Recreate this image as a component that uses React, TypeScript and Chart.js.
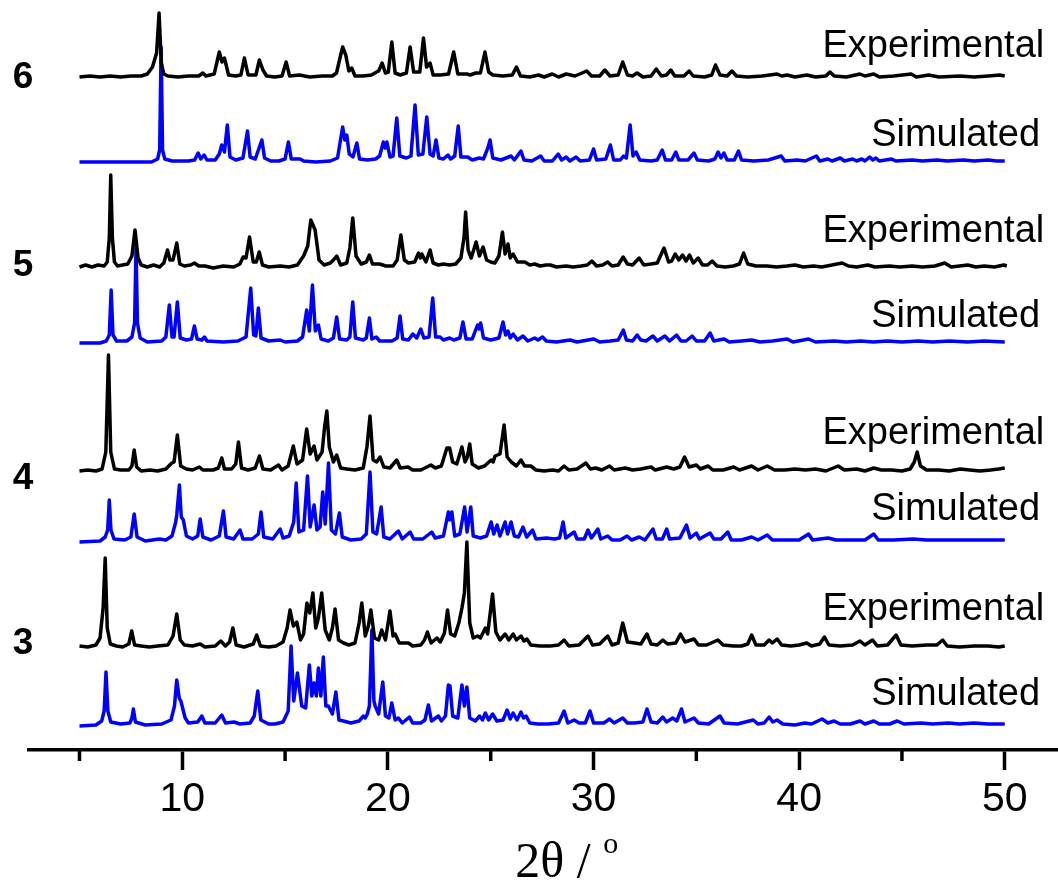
import React, { useEffect, useRef } from 'react';
import { Chart, registerables } from 'chart.js';

Chart.register(...registerables);

type P = [number, number];

// ---- Data: [2θ, intensity above each trace's own baseline] ----
const exp6: P[] = [[5.0,0],[5.5,1],[6.0,0],[6.5,1],[7.0,0],[7.5,1],[8.0,1],[8.3,3],[8.55,10],[8.75,24],[8.87,64],[8.98,14],[9.1,3],[9.3,1],[9.8,0],[10.3,1],[10.8,1],[11.0,4],[11.15,1],[11.55,3],[11.8,25],[11.93,15],[12.05,19],[12.25,2],[12.6,1],[12.85,2],[13.02,19],[13.2,2],[13.58,2],[13.75,17],[13.92,7],[14.1,1],[14.5,0],[14.85,1],[15.05,15],[15.22,1],[15.7,2],[16.2,0],[16.8,1],[17.3,1],[17.5,4],[17.68,20],[17.8,30],[17.95,22],[18.1,6],[18.24,9],[18.4,1],[18.8,1],[19.2,2],[19.45,5],[19.55,6],[19.72,14],[19.88,4],[20.02,5],[20.19,35],[20.35,4],[20.6,2],[20.9,4],[21.08,30],[21.25,5],[21.55,5],[21.73,39],[21.88,10],[22.05,14],[22.2,2],[22.55,2],[22.95,3],[23.2,25],[23.4,3],[23.84,3],[24.0,2],[24.27,4],[24.5,4],[24.72,25],[24.9,5],[25.1,2],[25.6,1],[26.05,2],[26.25,10],[26.45,1],[26.9,0],[27.33,2],[27.6,0],[27.99,3],[28.3,0],[28.67,3],[29.1,1],[29.67,6],[29.9,1],[30.3,1],[30.55,7],[30.8,1],[31.2,2],[31.42,15],[31.65,2],[31.9,1],[32.12,4],[32.4,0],[32.8,1],[33.05,8],[33.3,1],[33.55,2],[33.76,7],[33.95,1],[34.4,1],[34.65,6],[34.85,1],[35.4,0],[35.75,2],[35.93,12],[36.15,2],[36.5,1],[36.73,6],[36.95,1],[37.5,0],[38.2,1],[38.93,3],[39.15,1],[39.42,2],[39.8,0],[40.37,2],[40.8,0],[41.3,1],[41.5,5],[41.7,1],[42.3,0],[42.96,3],[43.2,1],[43.63,3],[43.9,0],[44.6,1],[45.45,3],[45.7,0],[46.31,2],[46.8,0],[47.83,1],[48.5,0],[49.2,1],[49.76,2],[50.0,1]];

const sim6: P[] = [[5.0,0],[7.0,0],[8.5,0],[8.8,3],[8.9,12],[8.97,115],[9.04,12],[9.15,3],[9.5,1],[10.3,1],[10.6,2],[10.77,9],[10.9,3],[11.06,7],[11.2,2],[11.6,2],[11.8,8],[11.92,17],[12.05,10],[12.19,37],[12.32,5],[12.6,2],[12.95,4],[13.17,31],[13.3,5],[13.55,3],[13.87,22],[14.0,4],[14.3,1],[14.7,1],[15.0,3],[15.16,20],[15.3,3],[15.73,3],[15.9,1],[16.5,0],[17.2,1],[17.55,4],[17.8,35],[17.9,22],[18.0,27],[18.12,8],[18.3,5],[18.49,19],[18.62,3],[19.0,2],[19.4,3],[19.6,6],[19.78,20],[19.87,14],[19.95,20],[20.1,5],[20.25,6],[20.43,44],[20.58,6],[20.9,4],[21.12,6],[21.32,57],[21.48,7],[21.7,8],[21.89,45],[22.05,8],[22.2,6],[22.34,22],[22.48,4],[22.7,3],[22.92,7],[23.05,3],[23.25,6],[23.3,15],[23.42,36],[23.55,5],[23.88,5],[24.1,2],[24.44,4],[24.65,3],[24.86,14],[24.97,22],[25.1,4],[25.5,2],[25.99,6],[26.15,2],[26.47,11],[26.62,2],[27.0,1],[27.43,6],[27.6,1],[28.0,1],[28.28,8],[28.45,2],[28.67,5],[28.85,1],[29.15,5],[29.35,1],[29.8,2],[30.0,13],[30.15,2],[30.6,3],[30.82,17],[30.98,2],[31.3,2],[31.46,6],[31.6,4],[31.78,37],[31.92,6],[32.07,10],[32.25,2],[32.8,1],[33.1,2],[33.34,12],[33.5,2],[33.8,2],[34.0,10],[34.15,2],[34.6,2],[34.89,9],[35.05,2],[35.6,1],[35.9,3],[36.06,10],[36.2,4],[36.34,9],[36.5,2],[36.85,2],[37.05,11],[37.2,2],[37.8,1],[38.5,2],[39.13,6],[39.3,1],[39.9,2],[40.3,1],[40.84,6],[41.0,1],[41.4,3],[41.6,1],[42.0,4],[42.2,1],[42.6,3],[42.8,1],[43.05,3],[43.2,1],[43.43,5],[43.58,2],[43.73,4],[43.9,1],[44.5,3],[44.7,1],[45.5,2],[46.0,1],[46.7,2],[47.2,1],[48.0,2],[48.5,1],[49.2,2],[49.6,1],[50.0,1]];

const exp5: P[] = [[5.0,1],[5.3,3],[5.6,1],[5.9,3],[6.2,2],[6.35,6],[6.45,30],[6.52,93],[6.6,30],[6.7,6],[6.85,2],[7.1,3],[7.35,4],[7.55,12],[7.7,38],[7.85,10],[8.0,3],[8.3,1],[8.6,3],[8.9,1],[9.1,5],[9.28,18],[9.4,8],[9.55,8],[9.73,25],[9.88,4],[10.1,2],[10.4,3],[10.59,5],[10.8,2],[11.11,2],[11.5,0],[12.0,2],[12.5,1],[12.8,4],[12.96,11],[13.1,10],[13.27,31],[13.45,6],[13.6,6],[13.74,16],[13.9,3],[14.2,1],[14.76,2],[15.2,1],[15.6,3],[15.9,12],[16.1,22],[16.25,48],[16.46,38],[16.65,8],[16.9,3],[17.2,5],[17.35,8],[17.51,12],[17.7,3],[18.0,5],[18.15,20],[18.29,50],[18.45,12],[18.7,4],[18.95,6],[19.1,13],[19.25,4],[19.6,4],[19.9,2],[20.25,2],[20.45,8],[20.63,33],[20.8,8],[21.0,5],[21.3,6],[21.49,15],[21.58,10],[21.65,14],[21.85,6],[22.05,18],[22.2,5],[22.45,3],[22.7,4],[23.0,3],[23.3,4],[23.55,10],[23.7,30],[23.78,56],[23.9,18],[24.05,10],[24.29,26],[24.45,12],[24.63,21],[24.8,8],[25.0,6],[25.2,5],[25.4,12],[25.57,36],[25.7,14],[25.84,24],[25.95,10],[26.09,14],[26.3,6],[26.66,6],[26.9,3],[27.14,4],[27.4,2],[27.7,3],[27.9,3],[28.2,1],[28.67,2],[29.0,1],[29.4,2],[29.7,3],[29.92,7],[30.15,2],[30.45,3],[30.69,6],[30.9,2],[31.2,3],[31.44,11],[31.65,4],[31.9,3],[32.22,10],[32.45,3],[32.8,4],[33.1,5],[33.43,20],[33.65,6],[33.8,7],[33.97,14],[34.15,8],[34.33,13],[34.5,7],[34.67,13],[34.85,5],[35.09,10],[35.3,3],[35.55,3],[35.77,7],[36.0,2],[36.4,1],[36.8,2],[37.1,4],[37.3,15],[37.5,4],[37.9,2],[38.44,2],[38.9,1],[39.4,2],[39.8,3],[40.2,1],[40.7,2],[41.1,1],[41.6,3],[42.09,5],[42.4,2],[42.8,1],[43.34,3],[43.7,1],[44.38,2],[44.9,1],[45.5,2],[46.0,1],[46.6,2],[47.08,5],[47.4,1],[47.8,2],[48.2,3],[48.6,1],[49.0,2],[49.5,1],[49.95,3],[50.1,2]];

const sim5: P[] = [[5.0,0],[6.0,0],[6.3,2],[6.45,8],[6.54,53],[6.63,8],[6.8,2],[7.3,2],[7.55,6],[7.68,20],[7.75,95],[7.82,20],[7.95,5],[8.3,1],[9.0,2],[9.2,6],[9.37,38],[9.5,6],[9.6,6],[9.76,41],[9.9,5],[10.2,3],[10.45,4],[10.59,17],[10.72,4],[10.95,3],[11.08,6],[11.2,2],[12.0,1],[12.7,2],[13.1,6],[13.33,55],[13.47,8],[13.58,7],[13.7,35],[13.83,5],[14.2,2],[14.76,3],[15.0,1],[15.6,2],[15.85,6],[16.05,33],[16.18,12],[16.33,58],[16.47,12],[16.62,18],[16.75,4],[17.1,2],[17.35,5],[17.51,26],[17.65,4],[18.0,3],[18.15,6],[18.29,41],[18.42,5],[18.8,3],[18.95,5],[19.1,25],[19.22,4],[19.43,6],[19.6,2],[20.2,2],[20.45,5],[20.59,27],[20.72,4],[21.0,3],[21.21,9],[21.4,5],[21.6,14],[21.75,5],[22.0,6],[22.18,45],[22.32,6],[22.54,6],[22.7,3],[23.0,5],[23.2,3],[23.5,5],[23.65,21],[23.8,4],[24.1,4],[24.36,18],[24.44,14],[24.51,20],[24.65,5],[25.0,3],[25.4,5],[25.6,21],[25.72,8],[25.84,12],[25.95,5],[26.09,9],[26.3,3],[26.57,7],[26.8,2],[27.14,5],[27.3,3],[27.52,6],[27.7,2],[28.2,1],[28.86,3],[29.2,1],[30.01,4],[30.3,1],[30.8,2],[31.2,3],[31.45,13],[31.6,3],[31.9,2],[32.12,8],[32.3,3],[32.55,2],[32.89,7],[33.1,2],[33.47,7],[33.7,2],[34.04,8],[34.25,2],[34.5,2],[34.8,7],[35.0,2],[35.4,2],[35.67,10],[35.85,2],[36.35,4],[36.6,1],[37.2,2],[37.69,3],[38.1,1],[38.7,2],[39.42,4],[39.7,1],[40.46,4],[40.8,1],[41.7,2],[42.3,1],[43.0,2],[43.6,1],[44.3,2],[45.0,1],[45.8,2],[46.5,1],[47.3,2],[48.2,1],[49.0,2],[50.0,1]];

const exp4: P[] = [[5.0,1],[5.4,2],[5.8,1],[6.1,3],[6.28,20],[6.41,117],[6.52,20],[6.7,3],[7.0,2],[7.4,2],[7.55,6],[7.66,22],[7.78,5],[8.0,1],[8.43,2],[8.8,1],[9.2,3],[9.49,9],[9.6,10],[9.76,37],[9.92,6],[10.2,3],[10.5,2],[10.83,5],[11.0,2],[11.5,2],[11.75,4],[11.92,14],[12.05,3],[12.4,3],[12.6,8],[12.73,30],[12.88,4],[13.2,2],[13.55,4],[13.75,16],[13.92,3],[14.3,2],[14.68,7],[14.85,2],[15.15,6],[15.4,26],[15.58,8],[15.85,12],[16.05,43],[16.22,18],[16.41,26],[16.55,12],[16.8,20],[16.92,45],[17.03,61],[17.15,25],[17.35,10],[17.51,17],[17.7,4],[18.0,3],[18.4,2],[18.8,4],[18.98,25],[19.13,56],[19.28,12],[19.45,10],[19.62,15],[19.8,5],[20.1,4],[20.43,12],[20.6,4],[20.98,5],[21.2,2],[21.6,2],[22.09,7],[22.3,4],[22.6,6],[22.87,24],[23.0,24],[23.15,10],[23.35,8],[23.6,25],[23.75,10],[23.85,14],[23.98,28],[24.1,8],[24.4,4],[24.7,6],[25.02,12],[25.12,10],[25.21,16],[25.45,18],[25.65,47],[25.8,15],[26.0,10],[26.25,6],[26.47,12],[26.65,6],[26.95,6],[27.2,2],[27.6,1],[28.0,2],[28.3,1],[28.57,6],[28.8,2],[29.2,3],[29.63,9],[29.85,3],[30.11,4],[30.4,2],[30.78,6],[31.0,2],[31.54,4],[31.9,2],[32.3,3],[32.8,5],[33.0,2],[33.56,5],[33.9,3],[34.2,5],[34.43,15],[34.65,5],[35.0,7],[35.2,3],[35.57,6],[35.8,2],[36.3,2],[36.82,5],[37.1,2],[37.69,6],[38.0,2],[38.45,6],[38.8,2],[39.3,2],[39.8,3],[40.3,2],[40.8,3],[41.3,1],[41.9,6],[42.2,2],[42.8,3],[43.2,1],[43.63,4],[44.0,2],[44.5,2],[45.0,1],[45.4,3],[45.6,10],[45.74,20],[45.9,6],[46.2,2],[46.8,2],[47.3,1],[47.83,3],[48.3,2],[48.8,1],[49.3,2],[49.7,3],[50.0,4]];

const sim4: P[] = [[5.0,0],[6.0,1],[6.25,5],[6.37,12],[6.45,42],[6.53,12],[6.68,3],[7.2,2],[7.5,5],[7.66,28],[7.8,5],[8.2,1],[8.89,3],[9.2,2],[9.5,6],[9.68,20],[9.73,27],[9.86,57],[9.95,25],[10.05,22],[10.2,6],[10.5,3],[10.75,6],[10.87,23],[11.0,5],[11.4,2],[11.8,6],[12.0,31],[12.13,5],[12.5,3],[12.81,12],[12.95,3],[13.4,3],[13.7,8],[13.83,30],[13.96,5],[14.4,3],[14.76,13],[14.9,4],[15.2,6],[15.42,20],[15.54,59],[15.67,10],[15.9,12],[16.09,66],[16.22,15],[16.41,37],[16.55,12],[16.7,15],[16.83,50],[16.95,18],[17.11,79],[17.25,12],[17.45,8],[17.64,29],[17.78,5],[18.2,2],[18.7,3],[18.95,8],[19.13,70],[19.27,10],[19.45,8],[19.67,35],[19.8,5],[20.1,3],[20.51,11],[20.7,3],[21.08,10],[21.25,3],[21.7,3],[22.13,10],[22.3,4],[22.7,6],[22.94,30],[23.0,22],[23.11,30],[23.25,6],[23.5,8],[23.73,35],[23.85,10],[24.03,35],[24.15,6],[24.5,4],[24.8,6],[25.02,20],[25.15,8],[25.31,17],[25.45,6],[25.7,20],[25.82,8],[25.99,20],[26.15,6],[26.35,5],[26.57,15],[26.75,5],[27.04,12],[27.2,3],[27.71,4],[28.1,3],[28.35,4],[28.52,20],[28.65,4],[29.06,10],[29.2,3],[29.55,3],[29.73,12],[29.9,4],[30.21,13],[30.35,3],[30.69,6],[30.9,2],[31.3,2],[31.63,6],[31.85,2],[32.22,5],[32.5,2],[32.89,13],[33.05,3],[33.35,3],[33.56,13],[33.7,3],[34.2,4],[34.52,17],[34.7,4],[35.0,9],[35.15,3],[35.67,9],[35.85,3],[36.2,3],[36.53,10],[36.7,2],[37.2,2],[37.69,5],[38.0,2],[38.45,7],[38.7,2],[39.4,2],[40.0,2],[40.46,8],[40.65,2],[41.41,4],[41.8,2],[42.5,2],[43.2,2],[43.63,8],[43.85,2],[44.6,2],[45.55,3],[46.2,2],[47.0,2],[48.0,2],[49.0,2],[50.0,2]];

const exp3: P[] = [[5.0,2],[5.4,1],[5.8,3],[6.0,10],[6.15,40],[6.25,90],[6.35,20],[6.5,4],[6.8,2],[7.1,1],[7.4,4],[7.54,17],[7.68,3],[8.0,2],[8.4,1],[8.8,2],[9.3,3],[9.55,12],[9.73,34],[9.9,8],[10.1,3],[10.5,2],[10.87,4],[11.1,1],[11.6,2],[11.87,7],[12.1,2],[12.3,6],[12.46,20],[12.62,3],[13.0,1],[13.45,4],[13.62,13],[13.8,2],[14.2,1],[14.56,2],[14.9,6],[15.1,20],[15.24,38],[15.4,22],[15.57,26],[15.75,8],[15.9,14],[16.06,45],[16.2,35],[16.35,55],[16.49,20],[16.62,30],[16.78,55],[16.95,18],[17.15,8],[17.3,20],[17.43,39],[17.6,8],[17.84,5],[18.1,3],[18.4,5],[18.6,25],[18.73,45],[18.9,12],[19.05,22],[19.17,38],[19.35,10],[19.55,8],[19.7,18],[19.88,8],[20.1,37],[20.25,12],[20.35,14],[20.55,5],[21.0,5],[21.2,2],[21.6,3],[21.78,8],[21.92,16],[22.1,5],[22.38,10],[22.55,6],[22.75,15],[22.9,38],[23.05,14],[23.25,12],[23.45,25],[23.6,40],[23.72,55],[23.84,106],[23.98,25],[24.15,10],[24.36,12],[24.5,10],[24.74,20],[24.85,14],[25.09,54],[25.25,16],[25.45,8],[25.7,14],[25.88,8],[26.09,14],[26.25,8],[26.47,12],[26.62,7],[26.76,9],[26.95,3],[27.4,2],[27.9,2],[28.3,3],[28.57,8],[28.8,2],[29.3,3],[29.73,12],[29.95,3],[30.3,4],[30.69,12],[30.9,3],[31.2,5],[31.42,25],[31.65,6],[32.0,5],[32.3,4],[32.6,14],[32.8,4],[33.1,3],[33.37,8],[33.6,4],[34.0,5],[34.23,14],[34.45,6],[34.89,9],[35.1,3],[35.5,3],[36.05,8],[36.3,3],[36.8,2],[37.2,2],[37.5,4],[37.69,13],[37.9,3],[38.3,3],[38.54,8],[38.7,5],[38.93,9],[39.15,3],[39.6,2],[40.0,3],[40.37,5],[40.6,2],[41.0,4],[41.23,11],[41.45,3],[42.0,2],[42.6,3],[42.96,7],[43.2,3],[43.57,8],[43.8,2],[44.3,3],[44.72,13],[44.95,3],[45.5,2],[46.2,3],[46.7,3],[46.98,8],[47.2,2],[47.8,1],[48.5,2],[49.2,2],[49.7,1],[50.0,2]];

const sim3: P[] = [[5.0,0],[5.8,1],[6.08,5],[6.2,15],[6.29,54],[6.38,15],[6.52,4],[7.0,2],[7.45,3],[7.55,8],[7.62,17],[7.72,4],[8.2,1],[9.0,2],[9.45,6],[9.62,20],[9.73,46],[9.85,28],[9.93,25],[10.14,8],[10.3,3],[10.75,4],[10.95,10],[11.1,3],[11.6,3],[11.92,11],[12.1,3],[12.52,4],[12.8,2],[13.3,3],[13.5,10],[13.67,35],[13.82,6],[14.2,2],[14.51,2],[14.9,4],[15.15,15],[15.29,80],[15.42,25],[15.6,53],[15.81,20],[16.0,18],[16.18,61],[16.3,30],[16.41,43],[16.52,30],[16.62,58],[16.74,30],[16.86,69],[16.98,20],[17.1,20],[17.3,12],[17.47,34],[17.62,6],[17.84,5],[18.2,3],[18.6,5],[18.81,10],[18.9,8],[19.0,12],[19.1,20],[19.22,96],[19.32,25],[19.38,20],[19.55,12],[19.75,44],[19.88,10],[20.05,8],[20.19,23],[20.35,6],[20.51,8],[20.7,3],[21.05,9],[21.2,3],[21.6,3],[21.8,6],[21.97,21],[22.12,5],[22.46,10],[22.6,5],[22.8,10],[22.94,41],[23.02,40],[23.15,10],[23.4,8],[23.6,41],[23.72,20],[23.84,39],[23.98,8],[24.25,5],[24.46,10],[24.6,6],[24.74,13],[24.9,6],[25.09,12],[25.3,5],[25.6,6],[25.8,16],[25.95,7],[26.09,13],[26.28,6],[26.47,14],[26.6,8],[26.72,10],[26.9,3],[27.3,2],[27.8,2],[28.3,3],[28.57,15],[28.75,3],[29.06,6],[29.3,3],[29.6,3],[29.83,15],[30.0,3],[30.5,3],[30.78,7],[31.0,3],[31.42,8],[31.65,3],[32.0,3],[32.4,4],[32.6,17],[32.8,4],[33.1,3],[33.37,9],[33.55,4],[33.85,8],[34.05,5],[34.28,17],[34.45,4],[34.89,8],[35.1,3],[35.6,2],[36.15,10],[36.35,3],[37.0,2],[37.77,6],[38.0,2],[38.3,3],[38.54,9],[38.72,4],[38.93,6],[39.2,2],[39.8,1],[40.27,3],[40.6,2],[41.12,7],[41.4,3],[41.7,5],[42.0,2],[42.5,2],[42.96,5],[43.2,2],[43.63,5],[43.9,2],[44.4,2],[44.77,5],[45.1,2],[45.93,3],[46.5,2],[47.27,3],[47.8,2],[48.5,3],[49.2,2],[50.0,2]];

// ---- Stacking and labels ----
const sampleNames = ['6', '5', '4', '3'];
const expTraces = [exp6, exp5, exp4, exp3];
const simTraces = [sim6, sim5, sim4, sim3];
const expOffsets = [673, 482, 278, 102];
const simOffsets = [588, 407, 208, 24];
const expLabelY = [693, 508, 306, 130];
const simLabelY = [604, 423, 230, 45];
const sampleLabelY = [662, 474, 261, 96];
const expLabelText = 'Experimental';
const simLabelText = 'Simulated';
const expLabelX = 51.92;
const simLabelX = 51.72;
const sampleLabelX = 2.26;

// ---- Axis ----
const xMin = 2.53;
const xMax = 52.59;
const yMin = 0;
const yMax = 750;
const majorTicks = [10, 20, 30, 40, 50];
const minorTicks = [5, 15, 25, 35, 45];
const axisTitleMain = '2θ / ';
const axisTitleSup = 'o';
const axisTitleCenterX = 28.7;

const BLUE = '#0000ff';
const BLACK = '#000000';
const SANS = '"Liberation Sans", Arial, Helvetica, sans-serif';
const SERIF = '"Liberation Serif", "Times New Roman", serif';

const overlayPlugin = {
  id: 'overlay',
  afterDraw(chart: any) {
    const { ctx } = chart;
    const xs = chart.scales.x;
    const ys = chart.scales.y;
    ctx.save();
    // minor ticks
    ctx.strokeStyle = BLACK;
    ctx.lineWidth = 3.5;
    minorTicks.forEach((t) => {
      const px = xs.getPixelForValue(t);
      ctx.beginPath();
      ctx.moveTo(px, ys.bottom);
      ctx.lineTo(px, ys.bottom + 11);
      ctx.stroke();
    });
    // trace labels
    ctx.fillStyle = BLACK;
    ctx.textBaseline = 'alphabetic';
    ctx.textAlign = 'right';
    ctx.font = `38px ${SANS}`;
    expLabelY.forEach((v) => ctx.fillText(expLabelText, xs.getPixelForValue(expLabelX), ys.getPixelForValue(v)));
    simLabelY.forEach((v) => ctx.fillText(simLabelText, xs.getPixelForValue(simLabelX), ys.getPixelForValue(v)));
    // sample numbers
    ctx.textAlign = 'center';
    ctx.font = `bold 37px ${SANS}`;
    sampleNames.forEach((n, i) => ctx.fillText(n, xs.getPixelForValue(sampleLabelX), ys.getPixelForValue(sampleLabelY[i])));
    // axis title
    ctx.font = `50px ${SERIF}`;
    const w1 = ctx.measureText(axisTitleMain).width;
    ctx.font = `30px ${SERIF}`;
    const w2 = ctx.measureText(axisTitleSup).width;
    const cx = xs.getPixelForValue(axisTitleCenterX);
    const left = cx - (w1 + w2) / 2;
    ctx.textAlign = 'left';
    ctx.font = `50px ${SERIF}`;
    ctx.fillText(axisTitleMain, left, 877);
    ctx.font = `30px ${SERIF}`;
    ctx.fillText(axisTitleSup, left + w1, 853);
    ctx.restore();
  },
};

export default function App() {
  const ref = useRef<HTMLCanvasElement | null>(null);
  useEffect(() => {
    if (!ref.current) return;
    const datasets: any[] = [];
    expTraces.forEach((tr, i) => {
      datasets.push({
        label: `Experimental ${sampleNames[i]}`,
        data: tr.map(([x, y]) => ({ x, y: y + expOffsets[i] })),
        borderColor: BLACK,
        borderWidth: 3.5,
        pointRadius: 0,
        tension: 0,
        borderJoinStyle: 'round',
        fill: false,
      });
    });
    simTraces.forEach((tr, i) => {
      datasets.push({
        label: `Simulated ${sampleNames[i]}`,
        data: tr.map(([x, y]) => ({ x, y: y + simOffsets[i] })),
        borderColor: BLUE,
        borderWidth: 3.5,
        pointRadius: 0,
        tension: 0,
        borderJoinStyle: 'round',
        fill: false,
      });
    });
    const chart = new Chart(ref.current, {
      type: 'line',
      data: { datasets },
      options: {
        animation: false,
        responsive: false,
        events: [],
        layout: { padding: { left: 28.7, right: 0, top: 0, bottom: 0 } },
        plugins: { legend: { display: false }, tooltip: { enabled: false }, title: { display: false } },
        scales: {
          x: {
            type: 'linear',
            min: xMin,
            max: xMax,
            afterBuildTicks: (scale: any) => {
              scale.ticks = majorTicks.map((v) => ({ value: v }));
            },
            afterFit: (scale: any) => {
              scale.height = 131;
            },
            border: { display: true, color: BLACK, width: 3.5 },
            grid: { display: true, drawOnChartArea: false, drawTicks: true, tickLength: 20, tickWidth: 3.5, tickColor: BLACK, color: BLACK },
            ticks: {
              autoSkip: false,
              maxRotation: 0,
              padding: 5,
              color: BLACK,
              font: { size: 41, family: SANS },
              callback: (v: any) => String(v),
            },
          },
          y: { type: 'linear', display: false, min: yMin, max: yMax },
        },
      },
      plugins: [overlayPlugin],
    });
    return () => chart.destroy();
  }, []);
  return (
    <div style={{ position: 'absolute', left: 0, top: 0, width: 1058, height: 881, background: '#fff' }}>
      <canvas ref={ref} width={1058} height={881} style={{ display: 'block', width: 1058, height: 881 }} />
    </div>
  );
}
